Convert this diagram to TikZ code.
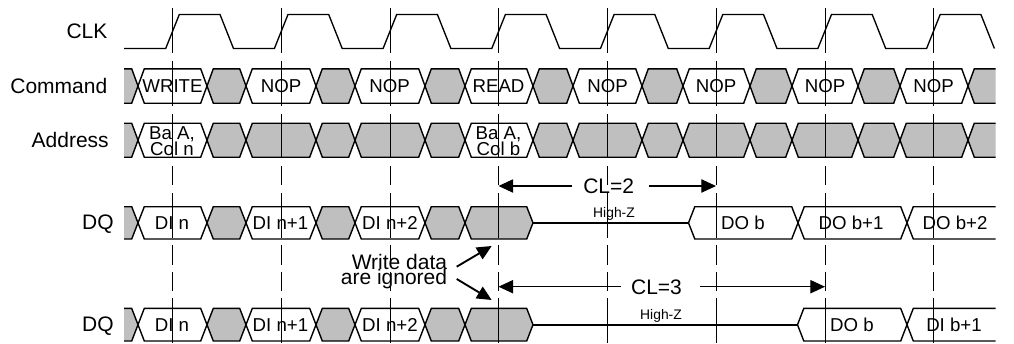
\documentclass[tikz,border=0pt]{standalone}
\usepackage{fontspec}
\setmainfont{Liberation Sans}
\usetikzlibrary{arrows.meta}

\tikzset{
    sigline/.style={line width=1.05pt, line join=miter},
    clkline/.style={line width=1pt},
    gridline/.style={line width=0.6pt, dash pattern=on 33.75pt off 6pt on 33.75pt off 6pt on 33pt off 6pt on 14.25pt off 6pt on 33.75pt off 5.25pt on 15pt off 5.25pt on 14.25pt off 5.25pt on 33.75pt off 100pt},
    siglabel/.style={inner sep=0pt, anchor=east, font=\fontsize{15.75}{18}\selectfont, text height=11.3pt, text depth=0pt},
    celltext/.style={inner sep=0pt, font=\fontsize{14}{16}\selectfont, text height=10pt, text depth=0pt},
    addrtext/.style={inner sep=0pt, align=center, font=\fontsize{14}{12}\selectfont},
    cltext/.style={inner ysep=0pt, font=\fontsize{15.75}{18}\selectfont, text height=11.3pt, text depth=0pt},
    hiztext/.style={inner sep=0pt, font=\fontsize{10.4}{12}\selectfont},
    notetext/.style={inner ysep=0pt, inner xsep=7pt, anchor=east, font=\fontsize{15.75}{18}\selectfont},
    clarrow/.style={line width=0.85pt, -{Triangle[length=11pt,width=10pt]}},
    notearrow/.style={line width=1.4pt, -{Triangle[length=11pt,width=10pt]}},
}
\colorlet{busgray}{black!25}

% #1 left, #2 right, #3 top, #4 bottom, #5 fill
\newcommand{\buscell}[5]{\draw[sigline, fill=#5] (#1,{(#3+#4)/2})--(#1+6.3,#3)--(#2-6.3,#3)--(#2,{(#3+#4)/2})--(#2-6.3,#4)--(#1+6.3,#4)--cycle;}
\newcommand{\busleft}[3]{\draw[sigline, fill=busgray] (124,#2)--(#1-6.3,#2)--(#1,{(#2+#3)/2})--(#1-6.3,#3)--(124,#3);}
\newcommand{\busright}[4]{\draw[sigline, fill=#4] (995.5,#2)--(#1+6.3,#2)--(#1,{(#2+#3)/2})--(#1+6.3,#3)--(995.5,#3);}

\begin{document}
\begin{tikzpicture}[x=0.75pt, y=-0.75pt]
    \useasboundingbox (0,0) rectangle (1014,343);

    %CLK
    \draw[clkline](124,48.5)
        \foreach \t in {172,280.7,389.4,498.1,606.8,715.5,824.2,932.9}{
            --(\t-6.3,48.5)--(\t+7.3,14.5)--(\t+48,14.5)--(\t+61.5,48.5)
        };
    \node[siglabel] (clk) at (107.7,31) {CLK};

    %Command
    \busleft{138}{68.8}{103.2}
    \foreach \a/\b in {138/207,246/316,355/425,465/533,573/642,683/750,792/858,900/968}{
        \buscell{\a}{\b}{68.8}{103.2}{white}
    }
    \foreach \a/\b in {207/246,316/355,425/465,533/573,642/683,750/792,858/900}{
        \buscell{\a}{\b}{68.8}{103.2}{busgray}
    }
    \busright{968}{68.8}{103.2}{busgray}
    \node[siglabel] (command) at (107.5,86) {Command};

    %Address
    \busleft{138}{123.2}{157.2}
    \foreach \a/\b in {207/246,246/316,316/355,355/425,425/465,533/573,573/642,642/683,683/750,750/792,792/858,858/900,900/968}{
        \buscell{\a}{\b}{123.2}{157.2}{busgray}
    }
    \buscell{138}{207}{123.2}{157.2}{white}
    \buscell{465}{533}{123.2}{157.2}{white}
    \busright{968}{123.2}{157.2}{busgray}
    \node[siglabel] (address) at (109,140) {Address};

    %DQ (CL=2)
    \busleft{138}{206.7}{239}
    \foreach \a/\b/\c in {138/207/white,207/246/busgray,246/316/white,316/355/busgray,355/425/white,425/465/busgray,465/533/busgray}{
        \buscell{\a}{\b}{206.7}{239}{\c}
    }
    \buscell{688.5}{798}{206.7}{239}{white}
    \buscell{798}{907}{206.7}{239}{white}
    \busright{907}{206.7}{239}{white}
    \coordinate (hizaa) at (533,222.85);
    \coordinate (hizab) at (688.5,222.85);
    \draw[sigline] (hizaa)--(hizab);
    \node[siglabel] (dqa) at (114,222) {DQ};
    \node[hiztext] (hiza) at (614,214) {High-Z};

    %DQ (CL=3)
    \busleft{138}{308.4}{341}
    \foreach \a/\b/\c in {138/207/white,207/246/busgray,246/316/white,316/355/busgray,355/425/white,425/465/busgray,465/533/busgray}{
        \buscell{\a}{\b}{308.4}{341}{\c}
    }
    \buscell{797.5}{907}{308.4}{341}{white}
    \busright{907}{308.4}{341}{white}
    \coordinate (hizba) at (533,324.7);
    \coordinate (hizbb) at (797.5,324.7);
    \draw[line width=1.4pt] (hizba)--(hizbb);
    \node[siglabel] (dqb) at (114,324) {DQ};
    \node[hiztext] (hizb) at (661,316) {High-Z};

    %clock edges
    \foreach \t in {172,281,390,498.5,607.5,716,825,933.5}{
        \draw[gridline] (\t,8)--(\t,343);
    }

    %cell text
    \node[celltext] (cmda) at (172.5,86) {WRITE};
    \node[celltext] (cmdb) at (281,86) {NOP};
    \node[celltext] (cmdc) at (389.5,86) {NOP};
    \node[celltext] (cmdd) at (498.5,86) {READ};
    \node[celltext] (cmde) at (607.5,86) {NOP};
    \node[celltext] (cmdf) at (716,86) {NOP};
    \node[celltext] (cmdg) at (825,86) {NOP};
    \node[celltext] (cmdh) at (933.5,86) {NOP};
    \node[addrtext] (addra) at (172,141) {Ba A,\\Col n};
    \node[addrtext] (addrb) at (498.5,141) {Ba A,\\Col b};

    \node[celltext] (dqaa) at (172,222.5) {DI n};
    \node[celltext] (dqab) at (280.5,222.5) {DI n+1};
    \node[celltext] (dqac) at (390,222.5) {DI n+2};
    \node[celltext] (dqad) at (743,222.5) {DO b};
    \node[celltext] (dqae) at (851,222.5) {DO b+1};
    \node[celltext] (dqaf) at (955,222.5) {DO b+2};

    \node[celltext] (dqba) at (172,324.5) {DI n};
    \node[celltext] (dqbb) at (280.5,324.5) {DI n+1};
    \node[celltext] (dqbc) at (390,324.5) {DI n+2};
    \node[celltext] (dqbd) at (852,324.5) {DO b};
    \node[celltext] (dqbe) at (954,324.5) {DI b+1};

    %CL arrows
    \coordinate (claa) at (498.5,186);
    \coordinate (clab) at (716,186);
    \node[cltext, inner xsep=8pt] (cla) at (608.7,186) {CL=2};
    \draw[clarrow] (cla.west)--(claa);
    \draw[clarrow, shorten <=3pt] (cla.east)--(clab);

    \coordinate (clba) at (498.5,286.7);
    \coordinate (clbb) at (825,286.7);
    \node[cltext, inner xsep=7.7pt] (clb) at (656.5,286.7) {CL=3};
    \draw[clarrow] (clb.west)--(clba);
    \draw[clarrow, shorten <=6pt] (clb.east)--(clbb);

    %ignored data
    \coordinate (notea) at (491.7,246);
    \coordinate (noteb) at (491.7,300);
    \node[notetext] (writedata) at (456.7,261.7) {Write data};
    \node[notetext] (ignored) at (456.7,279) {are ignored};
    \draw[notearrow] (writedata.east) ++(0,5)--(notea);
    \draw[notearrow] (ignored.east)--(noteb);
\end{tikzpicture}
\end{document}
